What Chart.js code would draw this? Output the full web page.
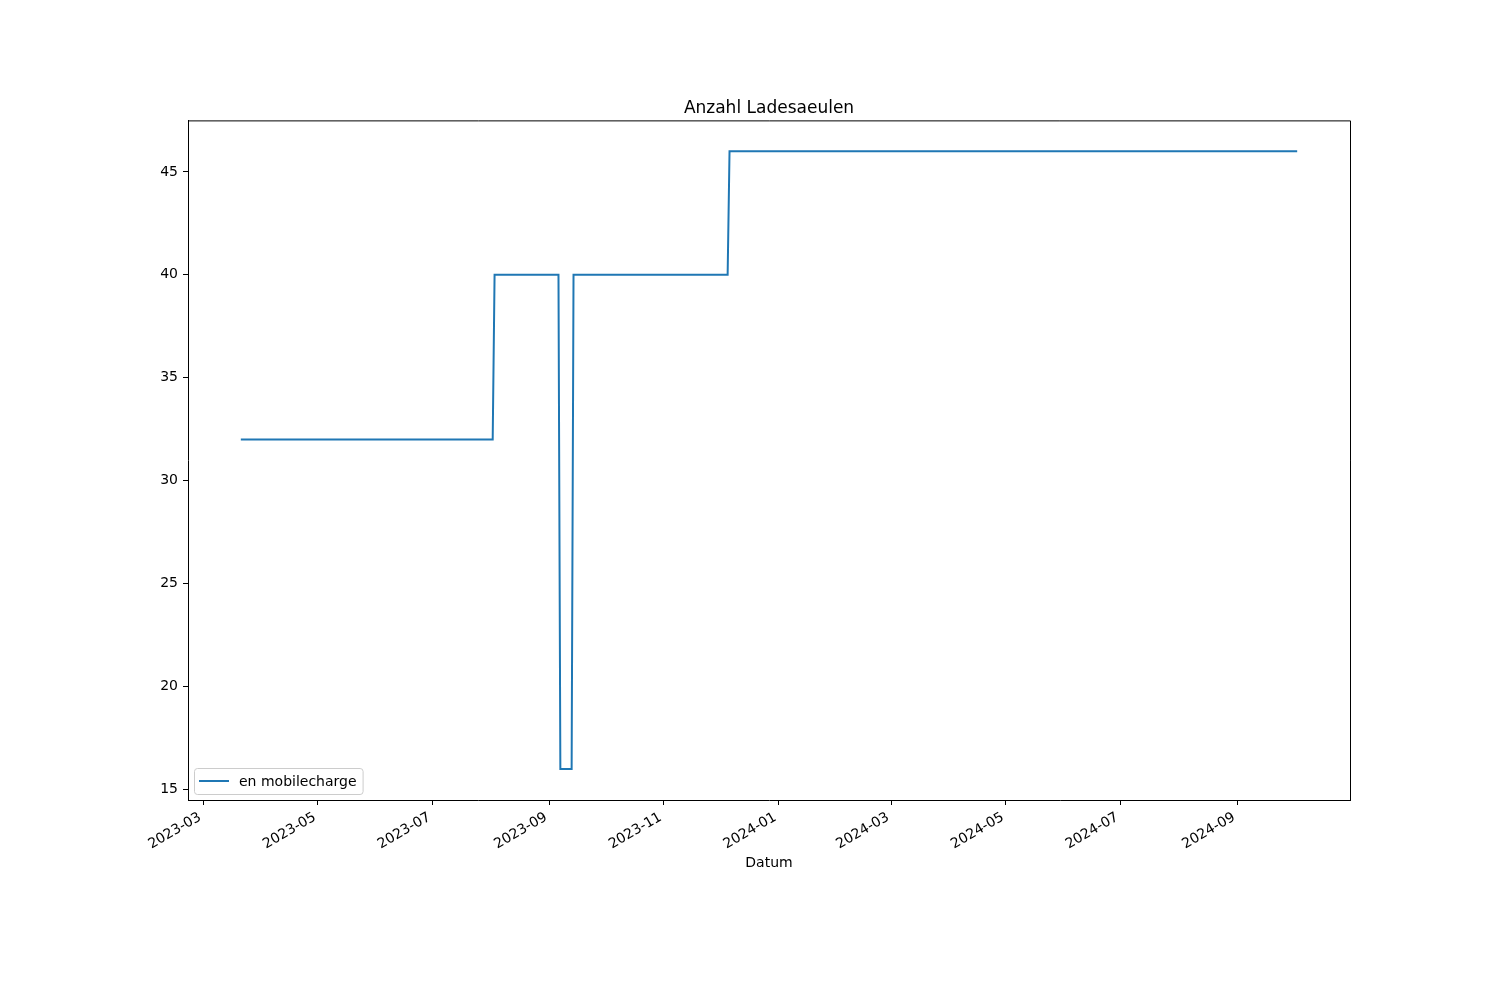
<!DOCTYPE html>
<html lang="de">
<head>
    <meta charset="UTF-8">
    <title>Anzahl Ladesaeulen</title>
    <script src="https://cdn.jsdelivr.net/npm/chart.js"></script>
    <style>
        body {
            margin: 0;
            padding: 0;
            background: white;
        }
        #wrap {
            width: 1500px;
            height: 1000px;
        }
    </style>
</head>
<body>
    <div id="wrap">
        <canvas id="chart" width="1500" height="1000"></canvas>
    </div>

    <script>
        // data (step changes of the series)
        const dates = ['2023-03-21', '2023-08-02', '2023-08-03', '2023-09-06', '2023-09-07',
                       '2023-09-13', '2023-09-14', '2023-12-05', '2023-12-06', '2024-10-03'];
        const counts = [32, 32, 40, 40, 16, 16, 40, 40, 46, 46];
        const seriesName = 'en mobilecharge';

        const tickLabels = ['2023-03', '2023-05', '2023-07', '2023-09', '2023-11',
                            '2024-01', '2024-03', '2024-05', '2024-07', '2024-09'];
        const yTicks = [15, 20, 25, 30, 35, 40, 45];

        const toTime = s => Date.parse(s + 'T00:00:00Z');

        const points = dates.map((d, i) => ({ x: toTime(d), y: counts[i] }));
        const tickTimes = tickLabels.map(t => toTime(t + '-01'));

        // matplotlib style 5% margins
        const xFirst = points[0].x, xLast = points[points.length - 1].x;
        const xPad = (xLast - xFirst) * 0.05;
        const yMinV = Math.min(...counts), yMaxV = Math.max(...counts);
        const yPad = (yMaxV - yMinV) * 0.05;

        const FONT = 'DejaVu Sans';

        // top and right frame lines (left/bottom come from the axes)
        const framePlugin = {
            id: 'frame',
            afterDraw(chart) {
                const { ctx, chartArea: a } = chart;
                ctx.save();
                ctx.strokeStyle = '#000';
                ctx.lineWidth = 1;
                ctx.beginPath();
                ctx.moveTo(a.left, a.top + 0.5);
                ctx.lineTo(a.right + 0.5, a.top + 0.5);
                ctx.lineTo(a.right + 0.5, a.bottom + 1);
                ctx.stroke();
                ctx.restore();
            }
        };

        // legend in the lower left corner of the plot
        const legendPlugin = {
            id: 'innerLegend',
            afterDraw(chart) {
                const { ctx, chartArea: a } = chart;
                const ds = chart.data.datasets[0];
                ctx.save();
                ctx.font = '14px "' + FONT + '"';
                const tw = ctx.measureText(ds.label).width;
                const x = a.left + 6, w = 45 + tw + 6, h = 26, y = a.bottom - 6 - h;
                ctx.beginPath();
                ctx.roundRect(x + 0.5, y + 0.5, w, h, 3);
                ctx.fillStyle = 'rgba(255,255,255,0.8)';
                ctx.fill();
                ctx.strokeStyle = '#cccccc';
                ctx.lineWidth = 1;
                ctx.stroke();
                ctx.beginPath();
                ctx.moveTo(x + 5, y + h / 2);
                ctx.lineTo(x + 35, y + h / 2);
                ctx.strokeStyle = ds.borderColor;
                ctx.lineWidth = 2;
                ctx.stroke();
                ctx.fillStyle = '#000';
                ctx.textBaseline = 'middle';
                ctx.fillText(ds.label, x + 45, y + h / 2 + 1);
                ctx.restore();
            }
        };

        new Chart(document.getElementById('chart'), {
            type: 'line',
            data: {
                datasets: [{
                    label: seriesName,
                    data: points,
                    borderColor: '#1f77b4',
                    borderWidth: 2,
                    pointRadius: 0,
                    tension: 0,
                    fill: false
                }]
            },
            options: {
                responsive: false,
                animation: false,
                layout: {
                    padding: { left: 38, right: 0, top: 0, bottom: 120 }
                },
                plugins: {
                    legend: { display: false },
                    tooltip: { enabled: false },
                    title: {
                        display: true,
                        text: 'Anzahl Ladesaeulen',
                        color: '#000',
                        font: { family: FONT, size: 17, weight: 'normal', lineHeight: 1.2 },
                        padding: { top: 98, bottom: 2 }
                    }
                },
                scales: {
                    x: {
                        type: 'linear',
                        min: xFirst - xPad,
                        max: xLast + xPad,
                        afterFit(scale) { scale.height = 80; },
                        afterBuildTicks(scale) {
                            scale.ticks = tickTimes.map(v => ({ value: v }));
                        },
                        ticks: {
                            autoSkip: false,
                            minRotation: 30,
                            maxRotation: 30,
                            padding: 4,
                            labelOffset: -3,
                            color: '#000',
                            font: { family: FONT, size: 14 },
                            callback(value) {
                                const i = tickTimes.indexOf(value);
                                return i >= 0 ? tickLabels[i] : '';
                            }
                        },
                        grid: {
                            drawOnChartArea: false,
                            drawTicks: true,
                            tickLength: 5,
                            tickColor: '#000'
                        },
                        border: { display: true, color: '#000', width: 1 },
                        title: {
                            display: true,
                            text: 'Datum',
                            color: '#000',
                            font: { family: FONT, size: 14, lineHeight: 1.2 },
                            padding: { top: 0, bottom: 8 }
                        }
                    },
                    y: {
                        type: 'linear',
                        position: 'left',
                        min: yMinV - yPad,
                        max: yMaxV + yPad,
                        afterFit(scale) { scale.width = 150; },
                        afterBuildTicks(scale) {
                            scale.ticks = yTicks.map(v => ({ value: v }));
                        },
                        ticks: {
                            padding: 5,
                            color: '#000',
                            font: { family: FONT, size: 14 }
                        },
                        grid: {
                            drawOnChartArea: false,
                            drawTicks: true,
                            tickLength: 5,
                            tickColor: '#000'
                        },
                        border: { display: true, color: '#000', width: 1 }
                    },
                    // empty right axis, only reserves the right margin
                    yRight: {
                        type: 'linear',
                        position: 'right',
                        display: true,
                        afterFit(scale) { scale.width = 150; },
                        ticks: { display: false },
                        grid: { display: false },
                        border: { display: false }
                    }
                }
            },
            plugins: [framePlugin, legendPlugin]
        });
    </script>
</body>
</html>
